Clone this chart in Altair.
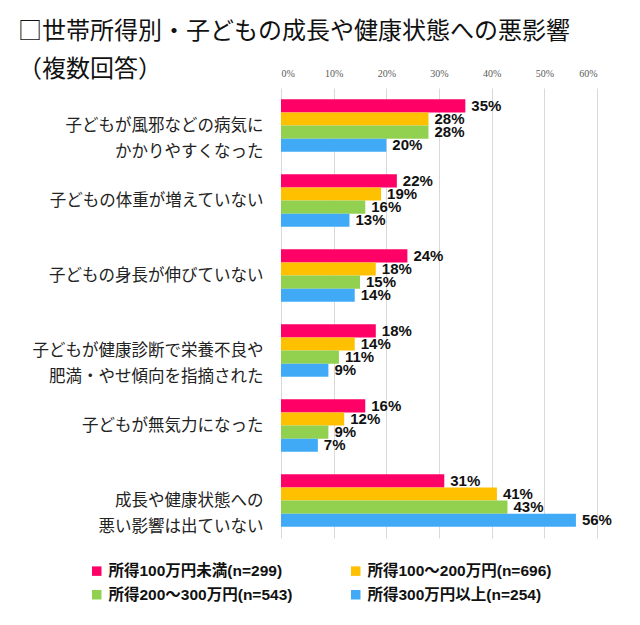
import altair as alt
import pandas as pd

categories = [
    "子どもが風邪などの病気に\nかかりやすくなった\u3000\u2002",
    "子どもの体重が増えていない",
    "子どもの身長が伸びていない",
    "子どもが健康診断で栄養不良や\n肥満・やせ傾向を指摘された\u2002",
    "子どもが無気力になった",
    "成長や健康状態への\u2002\n悪い影響は出ていない",
]
series = [
    "所得100万円未満(n=299)",
    "所得100～200万円(n=696)",
    "所得200～300万円(n=543)",
    "所得300万円以上(n=254)",
]
colors = ["#FF0066", "#FFC000", "#92D050", "#41AAF7"]
values = [
    [35, 22, 24, 18, 16, 31],
    [28, 19, 18, 14, 12, 41],
    [28, 16, 15, 11, 9, 43],
    [20, 13, 14, 9, 7, 56],
]
x_ticks = [0, 10, 20, 30, 40, 50, 60]

rows = []
for si, s in enumerate(series):
    for ci, c in enumerate(categories):
        rows.append({"category": c, "series": s, "value": values[si][ci]})
df = pd.DataFrame(rows)

y_enc = alt.Y(
    "category:N",
    sort=categories,
    scale=alt.Scale(paddingInner=0.3, paddingOuter=0.15),
    axis=alt.Axis(
        title=None,
        ticks=False,
        domain=False,
        labelExpr="split(datum.label, '\\n')",
        labelFont="Noto Sans CJK JP",
        labelFontSize=16.5,
        labelColor="#222222",
        labelPadding=18,
        labelLineHeight=26,
        labelLimit=400,
    ),
)
yoff = alt.YOffset("series:N", sort=series, scale=alt.Scale(paddingInner=0, paddingOuter=0))

base = alt.Chart(df)

bars = base.mark_bar().encode(
    x=alt.X(
        "value:Q",
        scale=alt.Scale(domain=[0, 60]),
        axis=alt.Axis(
            orient="top",
            values=x_ticks,
            title=None,
            ticks=False,
            domain=False,
            labelExpr="datum.value + '%'",
            labelFont="Liberation Sans Narrow",
            labelFontSize=10,
            labelColor="#595959",
            labelPadding=10,
            grid=True,
            gridColor="#D9D9D9",
            gridWidth=1,
        ),
    ),
    y=y_enc,
    yOffset=yoff,
    color=alt.Color(
        "series:N",
        sort=series,
        scale=alt.Scale(domain=series, range=colors),
        legend=alt.Legend(
            title=None,
            orient="none",
            direction="horizontal",
            legendX=-192,
            legendY=475,
            columns=2,
            columnPadding=55,
            rowPadding=7,
            symbolType="square",
            symbolSize=90,
            symbolStrokeWidth=0,
            labelFont="Liberation Sans, Noto Sans CJK JP",
            labelFontSize=15.5,
            labelFontWeight="bold",
            labelColor="#111111",
            labelLimit=300,
            labelOffset=4,
        ),
    ),
)

labels = base.mark_text(
    align="left",
    baseline="middle",
    dx=6,
    font="Liberation Sans",
    fontSize=15,
    fontWeight="bold",
    color="#111111",
).encode(
    x="value:Q",
    y=alt.Y("category:N", sort=categories),
    yOffset=yoff,
    text=alt.Text("label:N"),
).transform_calculate(label="datum.value + '%'")

chart = (
    alt.layer(bars, labels)
    .properties(
        width=316,
        height=450,
        padding={"left": 273, "top": 80, "right": 35, "bottom": 79},
        autosize=alt.AutoSizeParams(type="none"),
        title=alt.TitleParams(
            text=["□世帯所得別・子どもの成長や健康状態への悪影響", "（複数回答）"],
            anchor="start",
            frame="group",
            font="Noto Sans CJK JP",
            fontSize=24,
            fontWeight="normal",
            color="#111111",
            lineHeight=38,
            dx=-263,
            dy=14,
            offset=0,
        ),
    )
    .configure_view(stroke=None)
)

chart.save("out.html", embed_options={"renderer": "svg", "actions": False})
